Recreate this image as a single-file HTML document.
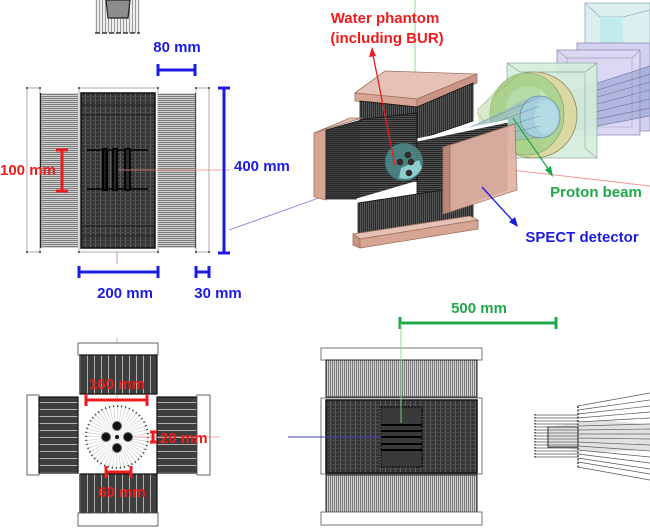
<!DOCTYPE html>
<html><head><meta charset="utf-8">
<style>
html,body{margin:0;padding:0;background:#fff;}
svg{display:block;}
text{font-family:"Liberation Sans",Arial,sans-serif;font-weight:bold;font-size:15px;}
</style></head>
<body>
<svg width="650" height="531" viewBox="0 0 650 531" xmlns="http://www.w3.org/2000/svg">
<defs>
<pattern id="hs" width="4" height="2" patternUnits="userSpaceOnUse"><rect width="4" height="2" fill="#d2d2d2"/><rect width="4" height="1" fill="#7c7c7c"/></pattern>
<pattern id="vs" width="2" height="4" patternUnits="userSpaceOnUse"><rect width="2" height="4" fill="#d2d2d2"/><rect width="1" height="4" fill="#7a7a7a"/></pattern>
<pattern id="vl" width="3" height="4" patternUnits="userSpaceOnUse"><rect width="3" height="4" fill="#eeeeee"/><rect width="1" height="4" fill="#9a9a9a"/></pattern>
<pattern id="grid" width="5" height="4" patternUnits="userSpaceOnUse"><rect width="5" height="4" fill="#353535"/><rect width="1" height="4" fill="#606060"/><rect width="5" height="1" fill="#4b4b4b"/></pattern>
<pattern id="dv" width="7" height="4" patternUnits="userSpaceOnUse"><rect width="7" height="4" fill="#3e3e3e"/><rect x="3" width="1" height="4" fill="#b0b0b0"/></pattern>
<pattern id="dh" width="4" height="7" patternUnits="userSpaceOnUse"><rect width="4" height="7" fill="#3e3e3e"/><rect y="3" width="4" height="1" fill="#b0b0b0"/></pattern>
<pattern id="d3v" width="2" height="4" patternUnits="userSpaceOnUse"><rect width="2" height="4" fill="#282828"/><rect width="1" height="4" fill="#585858"/></pattern>
<pattern id="d3h" width="4" height="2" patternUnits="userSpaceOnUse"><rect width="4" height="2" fill="#262626"/><rect width="4" height="1" fill="#4e4e4e"/></pattern>
</defs>

<!-- ================= TOP-LEFT PANEL ================= -->
<rect x="95" y="0" width="45" height="33" fill="url(#vl)"/>
<polygon points="106,0 130,0 128,18 108,18" fill="#8c8c8c" stroke="#222" stroke-width="1.2"/>
<line x1="95" y1="33" x2="140" y2="33" stroke="#333" stroke-width="1.6" stroke-dasharray="5,2"/>

<rect x="27" y="88" width="13" height="164" fill="#fff" stroke="#999" stroke-width="0.8"/>
<rect x="40" y="93" width="38" height="155" fill="url(#hs)"/>
<line x1="40.5" y1="93" x2="40.5" y2="248" stroke="#222" stroke-width="1.2"/>
<rect x="79" y="88" width="79" height="164" fill="#fff" stroke="#999" stroke-width="0.8"/>
<rect x="81" y="93" width="74" height="155" fill="url(#grid)" stroke="#111" stroke-width="1.5"/>
<line x1="81" y1="105" x2="155" y2="105" stroke="#111" stroke-width="0.8"/>
<line x1="81" y1="115" x2="155" y2="115" stroke="#111" stroke-width="0.8"/>
<line x1="81" y1="226" x2="155" y2="226" stroke="#111" stroke-width="0.8"/>
<line x1="81" y1="236" x2="155" y2="236" stroke="#111" stroke-width="0.8"/>
<line x1="87" y1="150" x2="148" y2="150" stroke="#000" stroke-width="1.5"/>
<line x1="87" y1="189" x2="148" y2="189" stroke="#000" stroke-width="1.5"/>
<rect x="103" y="149" width="4" height="41" fill="#1a1a1a" stroke="#000" stroke-width="2"/>
<rect x="113" y="149" width="4" height="41" fill="#2a2a2a" stroke="#000" stroke-width="1.8"/>
<rect x="125" y="149" width="5" height="41" fill="#2a2a2a" stroke="#000" stroke-width="1.8"/>
<rect x="158" y="93" width="38" height="155" fill="url(#hs)"/>
<line x1="195.5" y1="93" x2="195.5" y2="248" stroke="#222" stroke-width="1.2"/>
<rect x="196" y="88" width="13" height="164" fill="#fff" stroke="#999" stroke-width="0.8"/>
<g fill="#333">
<circle cx="27" cy="88" r="1"/><circle cx="40" cy="88" r="1"/><circle cx="27" cy="252" r="1"/><circle cx="40" cy="252" r="1"/>
<circle cx="79" cy="88" r="1"/><circle cx="158" cy="88" r="1"/><circle cx="79" cy="252" r="1"/><circle cx="158" cy="252" r="1"/>
<circle cx="196" cy="88" r="1"/><circle cx="209" cy="88" r="1"/><circle cx="196" cy="252" r="1"/><circle cx="209" cy="252" r="1"/>
</g>
<line x1="118" y1="170" x2="230" y2="170" stroke="#f08888" stroke-width="0.8"/>
<line x1="117" y1="252" x2="117" y2="264" stroke="#9090dd" stroke-width="0.9"/>
<line x1="229" y1="230" x2="330" y2="194" stroke="#8080e0" stroke-width="0.9"/>

<g stroke="#1c1ce0" stroke-width="3" fill="none">
<line x1="158" y1="70" x2="195" y2="70"/><line x1="158" y1="64" x2="158" y2="76"/><line x1="195" y1="64" x2="195" y2="76"/>
<line x1="224" y1="88" x2="224" y2="253"/><line x1="218" y1="88" x2="230" y2="88"/><line x1="218" y1="253" x2="230" y2="253"/>
<line x1="79" y1="272" x2="158" y2="272"/><line x1="79" y1="266" x2="79" y2="278"/><line x1="158" y1="266" x2="158" y2="278"/>
<line x1="196" y1="272" x2="209" y2="272"/><line x1="196" y1="266" x2="196" y2="278"/><line x1="209" y1="266" x2="209" y2="278"/>
</g>
<g stroke="#ee1c1c" stroke-width="3">
<line x1="62" y1="150" x2="62" y2="191"/><line x1="56" y1="150" x2="68" y2="150"/><line x1="56" y1="191" x2="68" y2="191"/>
</g>
<text x="177" y="52" text-anchor="middle" fill="#1c1ce0">80 mm</text>
<text x="234" y="171" fill="#1c1ce0">400 mm</text>
<text x="0" y="175" fill="#ee1c1c">100 mm</text>
<text x="125" y="298" text-anchor="middle" fill="#1c1ce0">200 mm</text>
<text x="218" y="298" text-anchor="middle" fill="#1c1ce0">30 mm</text>

<!-- ================= TOP-RIGHT 3D ================= -->
<line x1="415" y1="0" x2="415" y2="150" stroke="#8fd08f" stroke-width="0.9"/>
<line x1="425" y1="160" x2="650" y2="186" stroke="#f09090" stroke-width="0.9"/>

<!-- beam line boxes -->
<rect x="585" y="3" width="65" height="45" fill="#dcefee" stroke="#9ab" stroke-width="0.8"/>
<polyline points="585,3 600,17 623,17 650,10" fill="none" stroke="#9ab" stroke-width="0.7"/>
<rect x="600" y="17" width="23" height="30" fill="#c2ebeb"/>
<rect x="577" y="43" width="73" height="88" fill="#d4d0ef" stroke="#8f8fb0" stroke-width="0.8"/>
<rect x="557" y="50" width="83" height="85" fill="#dcd8f4" stroke="#8f8fb0" stroke-width="0.8"/>
<polyline points="557,50 567,58 632,58 640,50" fill="none" stroke="#9a9ac0" stroke-width="0.7"/>
<line x1="567" y1="58" x2="567" y2="127" stroke="#9a9ac0" stroke-width="0.6"/>
<line x1="567" y1="127" x2="557" y2="135" stroke="#9a9ac0" stroke-width="0.6"/>
<line x1="632" y1="58" x2="632" y2="127" stroke="#9a9ac0" stroke-width="0.6"/>
<line x1="567" y1="127" x2="632" y2="127" stroke="#9a9ac0" stroke-width="0.6"/>
<!-- beam fan to right -->
<polygon points="545,100 650,66 650,116 545,136" fill="#7f8ec4" opacity="0.45"/>
<g stroke="#4a5a8a" stroke-width="0.6" opacity="0.75">
<line x1="545" y1="100" x2="650" y2="66"/><line x1="545" y1="106" x2="650" y2="74"/>
<line x1="545" y1="112" x2="650" y2="82"/><line x1="545" y1="118" x2="650" y2="90"/>
<line x1="545" y1="124" x2="650" y2="99"/><line x1="545" y1="130" x2="650" y2="108"/>
<line x1="545" y1="136" x2="650" y2="116"/>
</g>
<!-- nozzle box -->
<rect x="507" y="63" width="90" height="95" fill="#d4eedc" stroke="#8aaa9a" stroke-width="0.8" opacity="0.9"/>
<polyline points="507,63 520,72 585,72 597,63" fill="none" stroke="#8aaa9a" stroke-width="0.7"/>
<line x1="585" y1="72" x2="585" y2="148" stroke="#8aaa9a" stroke-width="0.6"/>
<line x1="585" y1="148" x2="597" y2="158" stroke="#8aaa9a" stroke-width="0.6"/>
<!-- ring -->
<ellipse cx="534" cy="115" rx="43" ry="43" fill="#dcd8a2" stroke="#8a8a60" stroke-width="0.8"/>
<ellipse cx="527" cy="114" rx="37" ry="41" fill="#aed391" stroke="#7a9a6a" stroke-width="0.6"/>
<ellipse cx="528" cy="108" rx="22" ry="22" fill="#c6e6c4" opacity="0.9"/>
<!-- green cone -->
<polygon points="477,110 495,90 520,73 540,80 540,150 505,152 480,135" fill="#a8d08a" opacity="0.45"/>
<g stroke="#6a8a5a" stroke-width="0.5" opacity="0.6">
<line x1="477" y1="110" x2="520" y2="73"/><line x1="477" y1="112" x2="505" y2="152"/>
</g>
<!-- inner cylinder -->
<polygon points="445,140 532,96 545,96 545,137 532,137 450,152" fill="#8fb4d4" opacity="0.55"/>
<ellipse cx="540" cy="117" rx="20" ry="21" fill="#a4cfdc" stroke="#6a8aa0" stroke-width="0.7"/>
<ellipse cx="546" cy="117" rx="12" ry="17" fill="#b8dde6" opacity="0.8"/>
<g stroke="#5a6e96" stroke-width="0.5" opacity="0.7">
<line x1="440" y1="140" x2="540" y2="97"/><line x1="440" y1="143" x2="540" y2="106"/>
<line x1="440" y1="146" x2="540" y2="116"/><line x1="440" y1="149" x2="540" y2="126"/>
<line x1="440" y1="152" x2="540" y2="137"/>
</g>

<!-- upper plate -->
<polygon points="355,93 385,71 477,74 417,99" fill="#e6c2b6" stroke="#a0705e" stroke-width="0.8"/>
<polygon points="355,93 417,99 417,107 355,101" fill="#d6a594" stroke="#a0705e" stroke-width="0.8"/>
<polygon points="417,99 477,74 477,83 417,107" fill="#c99484" stroke="#a0705e" stroke-width="0.8"/>
<!-- upper detector -->
<polygon points="360,101 417,107 473,83 473,121 417,140 360,140" fill="url(#d3v)" stroke="#111" stroke-width="0.8"/>
<line x1="417" y1="107" x2="417" y2="140" stroke="#111" stroke-width="0.8"/>

<!-- right detector (behind pink) -->
<polygon points="417,140 507,121 507,190 443,212 417,207" fill="url(#d3h)" stroke="#111" stroke-width="0.8"/>
<line x1="417" y1="140" x2="508" y2="121" stroke="#fff" stroke-width="3"/>

<!-- left plate -->
<polygon points="314,133 350,118 362,118 326,129" fill="#e6c2b6" stroke="#a0705e" stroke-width="0.8"/>
<polygon points="314,133 326,129 326,200 314,197" fill="#d6a594" stroke="#a0705e" stroke-width="0.8"/>
<!-- left detector -->
<polygon points="326,130 365,119 417,113 417,181 358,199 326,199" fill="url(#d3h)" stroke="#111" stroke-width="0.8"/>
<polygon points="326,130 360,121 360,199 326,199" fill="#2e2e2e" opacity="0.5"/>
<!-- lower detector -->
<polygon points="358,203 443,190 443,212 473,203 473,219 358,235" fill="url(#d3v)" stroke="#111" stroke-width="0.8"/>
<line x1="357" y1="200" x2="415" y2="183" stroke="#fff" stroke-width="3"/>
<!-- lower plate -->
<polygon points="353,234 470,216 478,220 360,239" fill="#e6c2b6" stroke="#a0705e" stroke-width="0.8"/>
<polygon points="353,234 360,239 360,248 353,245" fill="#c99484" stroke="#a0705e" stroke-width="0.8"/>
<polygon points="360,239 478,220 478,229 360,248" fill="#d6a594" stroke="#a0705e" stroke-width="0.8"/>

<!-- phantom -->
<circle cx="404" cy="162" r="19" fill="#4f8c8c" opacity="0.85" stroke="#2f5f5f" stroke-width="0.6"/>
<path d="M399,178 A19,19 0 0 0 422,168 L419,160 L401,168 Z" fill="#9fe0e4" opacity="0.8"/>
<g fill="#3a2a2a" stroke="#111" stroke-width="0.5">
<circle cx="408" cy="155" r="3"/><circle cx="400" cy="162" r="3"/><circle cx="411" cy="162" r="3"/><circle cx="409" cy="173" r="3"/>
</g>

<!-- pink box -->
<polygon points="443,147 450,145 450,212 443,214" fill="#c08c7e" stroke="#a0705e" stroke-width="0.8" opacity="0.95"/>
<polygon points="450,145 515,124 517,190 450,212" fill="#e2b3a5" stroke="#a0705e" stroke-width="0.8" opacity="0.93"/>

<!-- arrows -->
<line x1="395" y1="165" x2="373" y2="55" stroke="#ee1c1c" stroke-width="1.3"/>
<polygon points="372,47 369,57 376,56" fill="#ee1c1c"/>
<line x1="513" y1="118" x2="549" y2="170" stroke="#1fa84a" stroke-width="1.3"/>
<polygon points="553,177 545,170 551,166" fill="#1fa84a"/>
<line x1="482" y1="187" x2="513" y2="221" stroke="#1c1ce0" stroke-width="1.3"/>
<polygon points="518,227 509,222 515,217" fill="#1c1ce0"/>

<text x="385" y="23" text-anchor="middle" fill="#ee1c1c">Water phantom</text>
<text x="387" y="43" text-anchor="middle" fill="#ee1c1c">(including BUR)</text>
<text x="596" y="197" text-anchor="middle" fill="#1fa84a">Proton beam</text>
<text x="582" y="242" text-anchor="middle" fill="#1c1ce0">SPECT detector</text>

<!-- ================= BOTTOM-LEFT ================= -->
<line x1="117" y1="338" x2="117" y2="402" stroke="#8fd08f" stroke-width="0.9"/>
<rect x="78" y="343" width="80" height="12" fill="#fff" stroke="#555" stroke-width="0.9"/>
<rect x="80" y="355" width="77" height="39" fill="url(#dv)" stroke="#111" stroke-width="1.2"/>
<rect x="27" y="395" width="12" height="80" fill="#fff" stroke="#555" stroke-width="0.9"/>
<rect x="39" y="397" width="39" height="76" fill="url(#dh)" stroke="#111" stroke-width="1.2"/>
<rect x="157" y="397" width="40" height="76" fill="url(#dh)" stroke="#111" stroke-width="1.2"/>
<rect x="197" y="395" width="13" height="80" fill="#fff" stroke="#555" stroke-width="0.9"/>
<rect x="80" y="474" width="77" height="39" fill="url(#dv)" stroke="#111" stroke-width="1.2"/>
<rect x="78" y="513" width="80" height="13" fill="#fff" stroke="#555" stroke-width="0.9"/>
<circle cx="117" cy="437" r="15.5" fill="none" stroke="#a8a8a8" stroke-width="31" stroke-dasharray="0.3 1.73" opacity="0.85"/>
<circle cx="117" cy="437" r="31" fill="none" stroke="#444" stroke-width="1.8" stroke-dasharray="1.3 2.75"/>
<line x1="128" y1="437" x2="220" y2="437" stroke="#f08888" stroke-width="0.8"/>
<g fill="#111" stroke="#666" stroke-width="1">
<circle cx="117" cy="426" r="4.5"/><circle cx="106" cy="437" r="4.5"/><circle cx="128" cy="437" r="4.5"/><circle cx="117" cy="448" r="4.5"/>
</g>
<circle cx="117" cy="437" r="2" fill="#111"/>
<g stroke="#ee1c1c" stroke-width="3">
<line x1="86" y1="400" x2="147" y2="400"/><line x1="86" y1="394" x2="86" y2="406"/><line x1="147" y1="394" x2="147" y2="406"/>
<line x1="153" y1="432" x2="153" y2="442"/><line x1="150" y1="432" x2="157" y2="432"/><line x1="150" y1="442" x2="157" y2="442"/>
<line x1="106" y1="472" x2="131" y2="472"/><line x1="106" y1="466" x2="106" y2="478"/><line x1="131" y1="466" x2="131" y2="478"/>
</g>
<text x="117" y="389" text-anchor="middle" fill="#ee1c1c">160 mm</text>
<text x="160" y="443" fill="#ee1c1c">20 mm</text>
<text x="122" y="497" text-anchor="middle" fill="#ee1c1c">60 mm</text>

<!-- ================= BOTTOM-MIDDLE ================= -->
<text x="479" y="313" text-anchor="middle" fill="#1fa84a">500 mm</text>
<g stroke="#1fa84a" stroke-width="3">
<line x1="400" y1="323" x2="556" y2="323"/><line x1="400" y1="317" x2="400" y2="329"/><line x1="556" y1="317" x2="556" y2="329"/>
</g>
<rect x="321" y="348" width="161" height="12" fill="#fff" stroke="#666" stroke-width="0.9"/>
<rect x="326" y="360" width="151" height="37" fill="url(#vs)" stroke="#222" stroke-width="1"/>
<rect x="321" y="398" width="161" height="76" fill="#fff" stroke="#666" stroke-width="0.9"/>
<rect x="326" y="400" width="151" height="73" fill="url(#grid)" stroke="#111" stroke-width="1.5"/>
<rect x="381" y="407" width="41" height="60" fill="#3a3a3a" stroke="#000" stroke-width="1" stroke-dasharray="2,1"/>
<g stroke="#000" stroke-width="2">
<line x1="381" y1="425" x2="422" y2="425"/><line x1="381" y1="431" x2="422" y2="431"/>
<line x1="381" y1="437" x2="422" y2="437"/><line x1="381" y1="444" x2="422" y2="444"/>
<line x1="381" y1="450" x2="422" y2="450"/>
</g>
<line x1="401" y1="323" x2="401" y2="423" stroke="#8fd08f" stroke-width="0.9"/>
<line x1="288" y1="437" x2="381" y2="437" stroke="#4040c0" stroke-width="1"/>
<rect x="326" y="475" width="151" height="37" fill="url(#vs)" stroke="#222" stroke-width="1"/>
<rect x="321" y="512" width="161" height="13" fill="#fff" stroke="#666" stroke-width="0.9"/>

<!-- ================= BOTTOM-RIGHT FAN ================= -->
<g stroke="#555" stroke-width="0.7">
<line x1="535" y1="415" x2="578" y2="415"/><line x1="535" y1="418" x2="578" y2="418"/>
<line x1="535" y1="421" x2="578" y2="421"/><line x1="535" y1="424" x2="578" y2="424"/>
<line x1="535" y1="427" x2="578" y2="427"/><line x1="535" y1="430" x2="578" y2="430"/>
<line x1="535" y1="433" x2="578" y2="433"/><line x1="535" y1="436" x2="578" y2="436"/>
<line x1="535" y1="439" x2="578" y2="439"/><line x1="535" y1="442" x2="578" y2="442"/>
<line x1="535" y1="445" x2="578" y2="445"/><line x1="535" y1="448" x2="578" y2="448"/>
<line x1="535" y1="451" x2="578" y2="451"/><line x1="535" y1="454" x2="578" y2="454"/>
<line x1="535" y1="457" x2="578" y2="457"/>
</g>
<line x1="535" y1="414" x2="535" y2="458" stroke="#222" stroke-width="1.2" stroke-dasharray="1.5,1.5"/>
<rect x="548" y="427" width="30" height="20" fill="none" stroke="#222" stroke-width="1"/>
<line x1="578" y1="406" x2="578" y2="468" stroke="#222" stroke-width="1.3" stroke-dasharray="2,1.5"/>
<g stroke="#555" stroke-width="0.7">
<line x1="578" y1="406" x2="650" y2="393"/><line x1="578" y1="410" x2="650" y2="400"/>
<line x1="578" y1="414" x2="650" y2="406"/><line x1="578" y1="418" x2="650" y2="412"/>
<line x1="578" y1="422" x2="650" y2="418"/><line x1="578" y1="426" x2="650" y2="424"/>
<line x1="578" y1="430" x2="650" y2="429"/><line x1="578" y1="434" x2="650" y2="434"/>
<line x1="578" y1="438" x2="650" y2="439"/><line x1="578" y1="442" x2="650" y2="445"/>
<line x1="578" y1="446" x2="650" y2="451"/><line x1="578" y1="450" x2="650" y2="457"/>
<line x1="578" y1="454" x2="650" y2="463"/><line x1="578" y1="458" x2="650" y2="469"/>
<line x1="578" y1="462" x2="650" y2="474"/><line x1="578" y1="467" x2="650" y2="480"/>
</g>
<polygon points="548,427 600,420 650,424 650,450 600,452 548,447" fill="#888" opacity="0.25"/>
</svg>
</body></html>
